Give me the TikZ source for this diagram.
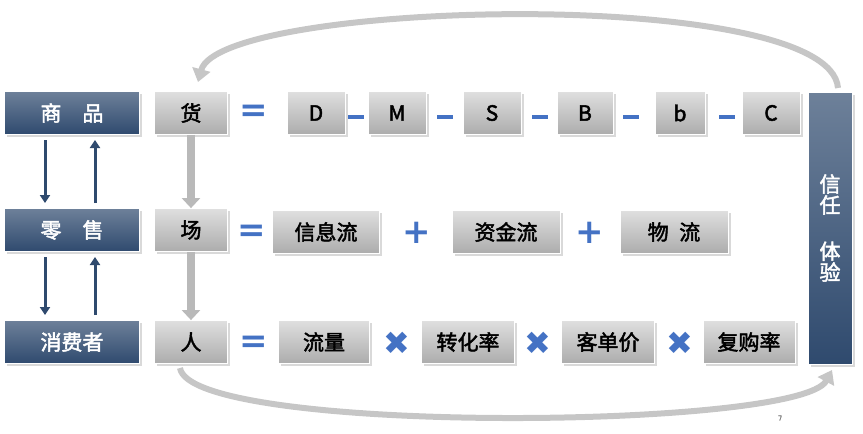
\documentclass[tikz,border=0pt]{standalone}
\usepackage{fontspec}
\setmainfont{Noto Sans CJK SC}[FakeBold=2.2]
\newfontfamily\dv{DejaVu Sans}
\usetikzlibrary{arrows.meta,shadows}
\definecolor{navy}{HTML}{2F4A6E}
\definecolor{blu}{HTML}{4472C4}
\tikzset{
 nbox/.style={draw=white,line width=0.8pt,top color=navy!70,bottom color=navy,text=white,font=\fontsize{21}{21}\selectfont,inner sep=0pt,drop shadow={opacity=0.3}},
 gbox/.style={draw=white,line width=0.8pt,top color=gray!25,bottom color=gray!65,text=black,font=\fontsize{21}{21}\selectfont,inner sep=0pt,drop shadow={opacity=0.3}},
 op/.style={text=blu,font=\dv\bfseries\fontsize{34}{34}\selectfont,inner sep=0pt},
 garr/.style={-{Triangle[width=18pt,length=10pt]},line width=8pt,draw=gray!55},
 narr/.style={-{Triangle[width=10pt,length=8pt]},line width=3pt,draw=navy},
 bigarr/.style={-{Triangle[width=18pt,length=13pt]},line width=6pt,draw=gray!45},
}
\newcommand{\bx}[5]{\node[#1,minimum width=#4pt,minimum height=43pt] (#2) at (#3) {#5};}
\begin{document}
\begin{tikzpicture}[x=1pt,y=-1pt]
\useasboundingbox (0,0) rectangle (863,434);
\draw[bigarr] (838,88) .. controls (830,-15) and (220,0) .. (198,82);
\draw[bigarr] (180,368) .. controls (190,435) and (800,430) .. (832,370);
\bx{nbox}{sp}{72,113}{135}{商\hspace{1em}品}
\bx{nbox}{ls}{72,230}{135}{零\hspace{1em}售}
\bx{nbox}{xf}{72,342}{135}{消费者}
\bx{gbox}{h}{191,113}{73}{货}
\bx{gbox}{c}{191,230}{73}{场}
\bx{gbox}{r}{191,342}{73}{人}
\node[nbox,minimum width=44pt,minimum height=272pt,align=center] (xr) at (830,228) {信\\任\\[1.2em]体\\验};
\draw[narr] (45,140) -- (45,203);
\draw[narr] (95,203) -- (95,140);
\draw[narr] (45,257) -- (45,315);
\draw[narr] (95,315) -- (95,257);
\draw[garr] (h) -- (c);
\draw[garr] (c) -- (r);
\node[op] (e1) at (254,113) {=};
\node[op] (e2) at (252,233) {=};
\node[op] (e3) at (254,344) {=};
\bx{gbox}{D}{316,113}{58}{D}
\bx{gbox}{M}{397,113}{58}{M}
\bx{gbox}{S}{492,113}{58}{S}
\bx{gbox}{B}{585,113}{56}{B}
\bx{gbox}{b}{680,113}{50}{b}
\bx{gbox}{C}{771,113}{58}{C}
\foreach \x in {356,445,540,631,727}{\fill[blu] (\x-8,115) rectangle (\x+8,119);}
\bx{gbox}{x1}{326,232}{107}{信息流}
\bx{gbox}{x2}{506,232}{108}{资金流}
\bx{gbox}{x3}{674,232}{108}{物\hspace{0.5em}流}
\node[op] (p1) at (417,233) {+};
\node[op] (p2) at (590,233) {+};
\bx{gbox}{y1}{324,342}{91}{流量}
\bx{gbox}{y2}{468,342}{93}{转化率}
\bx{gbox}{y3}{608,342}{93}{客单价}
\bx{gbox}{y4}{749,342}{92}{复购率}
\node[op,font=\dv\fontsize{32}{32}\selectfont] (m1) at (397,343) {✖};
\node[op,font=\dv\fontsize{32}{32}\selectfont] (m2) at (538,343) {✖};
\node[op,font=\dv\fontsize{32}{32}\selectfont] (m3) at (680,343) {✖};
\node[text=gray,font=\fontsize{7}{7}\selectfont] (pg) at (780,418) {7};
\end{tikzpicture}
\end{document}
